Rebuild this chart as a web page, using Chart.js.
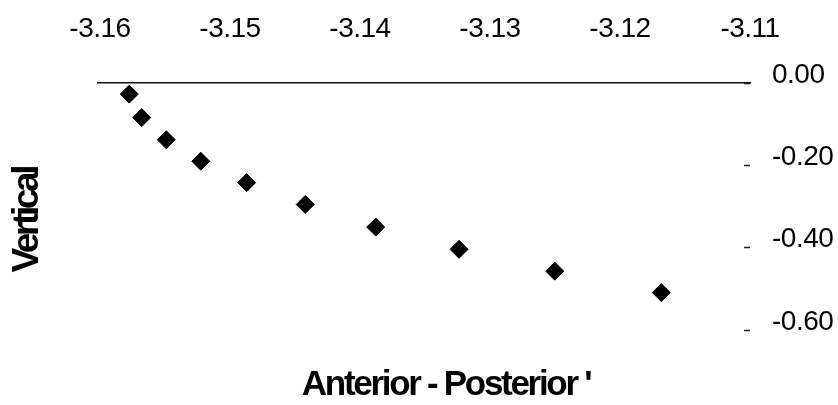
<!DOCTYPE html>
<html>
<head>
<meta charset="utf-8">
<title>Vertical vs Anterior - Posterior</title>
<script src="https://cdn.jsdelivr.net/npm/chart.js@4/dist/chart.umd.min.js"></script>
<style>
  html, body { margin: 0; padding: 0; background: #fff; }
  #wrap { width: 838px; height: 405px; position: relative; }
</style>
</head>
<body>
<div id="wrap"><canvas id="c"></canvas></div>
<script>
// Measured positions (anterior-posterior vs vertical)
const AP = [-3.15775, -3.15679, -3.15490, -3.15225, -3.14872, -3.14421, -3.13879, -3.13238, -3.12502, -3.11682];
const VERT = [-0.027, -0.084, -0.138, -0.190, -0.242, -0.295, -0.350, -0.404, -0.457, -0.509];

// Axis tick values
const X_TICKS = [-3.16, -3.15, -3.14, -3.13, -3.12, -3.11];
const Y_TICKS = [0.00, -0.20, -0.40, -0.60];

const X_TITLE = "Anterior - Posterior '";
const Y_TITLE = "Vertical";

const points = AP.map((x, i) => ({ x: x, y: VERT[i] }));

const FAMILY = "'Liberation Sans', Arial, sans-serif";

// Tight tracking for the bold captions and tick labels (canvas letterSpacing)
const tracking = {
  id: 'tracking',
  afterLayout(chart) {
    const ctx = chart.ctx;
    chart.boxes.forEach(box => {
      if (box._tracked) return;
      box._tracked = true;
      let spacing = null, method = 'draw';
      if (box.axis) { spacing = '-0.5px'; method = 'drawLabels'; }
      else if (box.options && box.options.position === 'left') spacing = '-3.4px';
      else if (box.options && box.options.position === 'bottom') spacing = '-2.3px';
      if (!spacing) return;
      const orig = box[method].bind(box);
      box[method] = function (...args) {
        const prev = ctx.letterSpacing;
        ctx.letterSpacing = spacing;
        orig(...args);
        ctx.letterSpacing = prev || '0px';
      };
    });
  }
};

new Chart(document.getElementById('c'), {
  type: 'scatter',
  data: {
    datasets: [{
      data: points,
      pointStyle: 'rectRot',
      pointRadius: 9,
      pointHoverRadius: 9,
      backgroundColor: '#000',
      borderColor: '#000',
      borderWidth: 1
    }]
  },
  plugins: [tracking],
  options: {
    responsive: true,
    maintainAspectRatio: false,
    animation: false,
    events: [],
    layout: { padding: { left: 0, top: 0, bottom: 0, right: -54 } },
    plugins: {
      legend: { display: false },
      tooltip: { enabled: false },
      title: {
        display: true,
        text: Y_TITLE,
        position: 'left',
        fullSize: false,
        color: '#000',
        font: { family: FAMILY, size: 37, weight: 'bold', lineHeight: 1 },
        padding: { top: 9, bottom: 51.4 }
      },
      subtitle: {
        display: true,
        text: X_TITLE,
        position: 'bottom',
        fullSize: true,
        color: '#000',
        font: { family: FAMILY, size: 35, weight: 'bold', lineHeight: 1 },
        padding: { top: 10.6, bottom: 2 }
      }
    },
    scales: {
      x: {
        type: 'linear',
        position: 'top',
        min: -3.1602,
        max: -3.11,
        afterBuildTicks: s => { s.ticks = X_TICKS.map(v => ({ value: v })); },
        afterFit: s => { s.height = 83; },
        grid: { display: true, drawOnChartArea: false, drawTicks: false },
        border: { display: true, color: '#111', width: 1.6 },
        ticks: {
          color: '#000',
          font: { family: FAMILY, size: 28, lineHeight: 1 },
          padding: 39.5,
          autoSkip: false,
          maxRotation: 0,
          callback: v => v.toFixed(2)
        }
      },
      y: {
        type: 'linear',
        position: 'right',
        min: -0.6665,
        max: 0,
        afterBuildTicks: s => { s.ticks = Y_TICKS.map(v => ({ value: v })); },
        afterFit: s => { s.width = 142; },
        grid: { display: true, drawOnChartArea: false, drawTicks: true, tickLength: -6, color: '#222', tickWidth: 1.5 },
        border: { display: false },
        ticks: {
          color: '#000',
          font: { family: FAMILY, size: 28, lineHeight: '16px' },
          padding: 28,
          callback: v => [v.toFixed(2), '']
        }
      }
    }
  }
});
</script>
</body>
</html>
